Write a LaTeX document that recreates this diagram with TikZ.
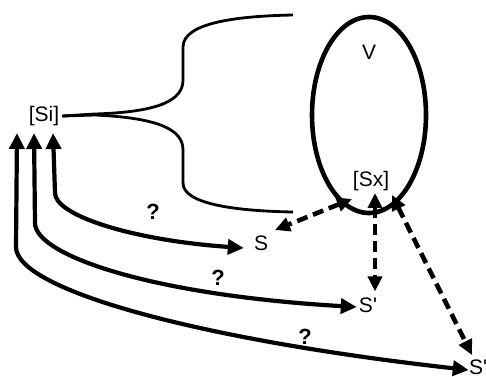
\documentclass[tikz,border=0pt]{standalone}
\usepackage{fontspec}
\setmainfont{Liberation Sans}[Ligatures=TeXOff]
\usetikzlibrary{arrows.meta,shapes.geometric}
\begin{document}
\begin{tikzpicture}[x=1pt,y=-1pt,
  lbl/.style={inner sep=0pt,font=\fontsize{21}{24}\selectfont},
  qm/.style={inner sep=0pt,font=\fontsize{22}{26}\selectfont\bfseries},
  brace/.style={line width=2.8pt},
  solidarr/.style={line width=4.2pt,{Triangle[length=16pt,width=15pt]}-{Triangle[length=16pt,width=15pt]}},
  dasharr/.style={line width=4.6pt,dash pattern=on 11pt off 6pt,{Triangle[length=15pt,width=14pt]}-{Triangle[length=15pt,width=14pt]}}]
\useasboundingbox (0,0) rectangle (486,376);
% nodes
\node[lbl] (si) at (44,116) {[Si]};
\node[lbl] (v) at (369,52) {V};
\node[lbl] (sx) at (371,181) {[Sx]};
\node[lbl] (s1) at (261,243) {S};
\node[lbl] (s2) at (368,305) {S'};
\node[lbl] (s3) at (478,367) {S'};
\node[qm] (q1) at (153,212) {?};
\node[qm] (q2) at (218,278) {?};
\node[qm] (q3) at (305,337) {?};
% ellipse
\node[draw,line width=4.6pt,ellipse,minimum width=114pt,minimum height=196pt,inner sep=0pt] (ell) at (369,115) {};
% brace
\draw[brace] ([xshift=3pt]si.east) -- (95,114) .. controls (160,112) and (183,100) .. (183,80) -- (183,47)
  .. controls (183,22) and (240,16) .. (293,15);
\draw[brace] ([xshift=3pt]si.east) -- (95,115) .. controls (160,118) and (183,130) .. (183,150) -- (183,183)
  .. controls (183,205) and (240,211) .. (293,212);
% tip coordinates below [Si]
\path (si.center) ++(9,17) coordinate (t1);
\path (si.center) ++(-10,17) coordinate (t2);
\path (si.center) ++(-27,17) coordinate (t3);
% solid arrows
\draw[solidarr] (t1) -- (55,193) .. controls (55,215) and (130,240) .. ([xshift=-10pt,yshift=-5pt]s1.west);
\draw[solidarr] (t2) -- (35,223) .. controls (35,255) and (150,295) .. ([xshift=-2pt,yshift=-2pt]s2.west);
\draw[solidarr] (t3) -- (16,247) .. controls (16,290) and (200,340) .. ([xshift=0pt,yshift=-3pt]s3.west);
% dashed arrows
\draw[dasharr] ([xshift=-19pt,yshift=-8pt]sx.south) -- ([xshift=14pt,yshift=13pt]s1.center);
\draw[dasharr] ([xshift=4pt,yshift=-2pt]sx.south) -- ([xshift=7pt,yshift=6pt]s2.north);
\draw[dasharr] ([xshift=21pt,yshift=-4pt]sx.south) -- ([xshift=-6pt,yshift=12pt]s3.center);
\end{tikzpicture}
\end{document}
